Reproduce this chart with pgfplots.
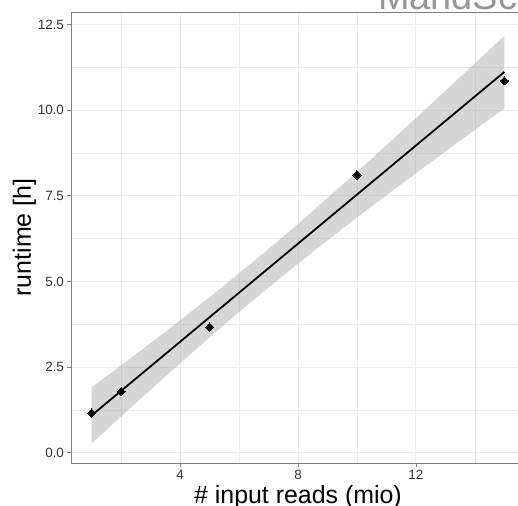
\documentclass[border=0pt]{standalone}
\usepackage{fontspec}
\setmainfont{Liberation Sans}
\usepackage{pgfplots}
\pgfplotsset{compat=1.18}
\definecolor{gridmaj}{RGB}{235,235,235}
\definecolor{frame}{RGB}{127,127,127}
\definecolor{ticktext}{RGB}{51,51,51}
\definecolor{bandfill}{RGB}{153,153,153}
\definecolor{titlegray}{RGB}{150,150,150}

\begin{document}
\begin{tikzpicture}
\begin{axis}[
  scale only axis, width=454bp, height=451bp,
  xmin=0.3, xmax=15.7, ymin=-0.30, ymax=12.87,
  xtick={4,8,12}, ytick={0,2.5,5,7.5,10,12.5},
  minor xtick={2,6,10,14}, minor ytick={1.25,3.75,6.25,8.75,11.25},
  grid=both,
  major grid style={gridmaj, line width=1bp},
  minor grid style={gridmaj, line width=0.5bp},
  axis line style={frame, line width=0.8bp},
  tick style={frame, line width=0.8bp},
  tick align=outside, major tick length=3.5bp, minor tick length=0pt,
  tick pos=left,
  y tick label style={/pgf/number format/.cd, fixed, fixed zerofill, precision=1},
  ticklabel style={font=\fontsize{13.5}{14}\selectfont, text=ticktext},
  /pgf/number format/assume math mode=true,
  xlabel={\# input reads (mio)}, ylabel={runtime [h]},
  label style={font=\fontsize{25}{28}\selectfont},
  xlabel style={at={(axis description cs:0.5,-0.0887)}, anchor=base},
  ylabel style={at={(axis description cs:-0.0881,0.5)}, anchor=base},
]
\coordinate (pSW) at (rel axis cs:0,0);
% measured points
\addplot[only marks, mark=square*, mark size=2.9bp,
  mark options={rotate=45, fill=black, draw=black, line width=0pt}]
  coordinates {(1,1.16) (2,1.78) (5,3.67) (10,8.11) (15,10.86)};
% confidence band (upper, then lower reversed)
\addplot[draw=none, fill=bandfill, fill opacity=0.4] coordinates {
  (1,1.91) (2,2.55) (3,3.20) (4,3.87) (5,4.54) (6,5.24) (7,5.95) (8,6.68)
  (9,7.44) (10,8.20) (11,8.98) (12,9.77) (13,10.57) (14,11.37) (15,12.17)
  (15,10.05) (14,9.43) (13,8.80) (12,8.16) (11,7.52) (10,6.87) (9,6.20)
  (8,5.52) (7,4.82) (6,4.11) (5,3.37) (4,2.61) (3,1.84) (2,1.06) (1,0.27)
} -- cycle;
% fitted line
\addplot[black, line width=1.8bp] coordinates {(1,1.09) (15,11.12)};
\end{axis}
\node[anchor=base west, inner sep=0pt, font=\fontsize{38}{40}\selectfont, text=titlegray]
  at ([shift={(307bp,453bp)}]pSW) {MandSc};
\pgfresetboundingbox
\path[use as bounding box] ([shift={(-71bp,-43bp)}]pSW) rectangle ([shift={(447bp,463bp)}]pSW);
\end{tikzpicture}
\end{document}
